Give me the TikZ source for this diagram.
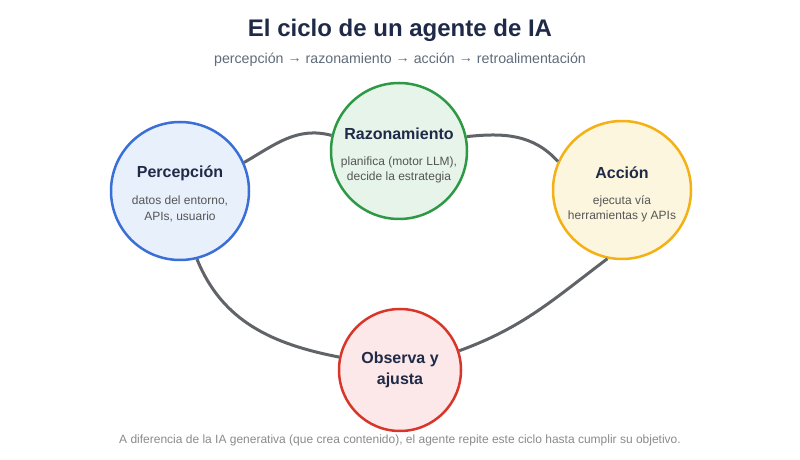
\documentclass[tikz,border=0pt]{standalone}
\usepackage{fontspec}
\setmainfont{Liberation Sans}
\usepackage{tikz}
\usetikzlibrary{topaths,calc}

\definecolor{navy}{HTML}{1F2A48}
\definecolor{subgray}{HTML}{5F6B7A}
\definecolor{txtgray}{HTML}{555555}
\definecolor{footgray}{HTML}{8A8A8A}
\definecolor{wire}{HTML}{606368}
\definecolor{percline}{HTML}{3B6FD8}
\definecolor{percfill}{HTML}{E8F0FC}
\definecolor{razline}{HTML}{2E9944}
\definecolor{razfill}{HTML}{E7F4EA}
\definecolor{accline}{HTML}{F5B014}
\definecolor{accfill}{HTML}{FDF6DF}
\definecolor{obsline}{HTML}{D9362B}
\definecolor{obsfill}{HTML}{FCE8E8}

\newcommand{\flecha}{\raisebox{1pt}{→}}

\begin{document}
\begin{tikzpicture}[
  x=1pt, y=1pt,
  stage/.style = {shape=circle, draw=#1line, fill=#1fill, line width=2.5pt, inner sep=0pt},
  head/.style = {font=\fontsize{16}{21}\selectfont\bfseries, text=navy, align=center, inner sep=0pt},
  sub/.style = {font=\fontsize{12}{15.5}\selectfont, text=txtgray, align=center, inner sep=0pt},
  link/.style = {draw=wire, line width=3pt}
]
  \useasboundingbox (0,0) rectangle (800,460);

  \node[font=\fontsize{24}{28}\selectfont\bfseries, text=navy] (title) at (400,430) {El ciclo de un agente de IA};
  \node[font=\fontsize{14.2}{17}\selectfont, text=subgray] (subtitle) at (400,400) {percepción \flecha{} razonamiento \flecha{} acción \flecha{} retroalimentación};

  % the four stages
  \node[stage=perc, minimum size=138pt] (perc) at (180,269) {};
  \node[stage=raz, minimum size=136pt] (raz) at (399,309) {};
  \node[stage=acc, minimum size=138pt] (acc) at (622,270) {};
  \node[stage=obs, minimum size=122pt] (obs) at (400,90) {};

  \node[head] (perc-t) at ([yshift=18pt]perc.center) {Percepción};
  \node[sub] (perc-s) at ([yshift=-18pt]perc.center) {datos del entorno,\\APIs, usuario};
  \node[head] (raz-t) at ([yshift=17pt]raz.center) {Razonamiento};
  \node[sub] (raz-s) at ([yshift=-19pt]raz.center) {planifica (motor LLM),\\decide la estrategia};
  \node[head] (acc-t) at ([yshift=17pt]acc.center) {Acción};
  \node[sub] (acc-s) at ([yshift=-19pt]acc.center) {ejecuta vía\\herramientas y APIs};
  \node[head] (obs-t) at (obs.center) {Observa y\\ajusta};

  % connectors
  \draw[link] (perc.24) to[out=30, in=165] (raz.167);
  \draw[link] (raz.12) to[out=6, in=132] (acc.156);
  \draw[link] (perc.-76) to[out=-68, in=169] (obs.168);
  \draw[link] (obs.18) to[out=20, in=-143] (acc.-102);

  \node[font=\fontsize{12}{14}\selectfont, text=footgray] (foot) at (400,20) {A diferencia de la IA generativa (que crea contenido), el agente repite este ciclo hasta cumplir su objetivo.};
\end{tikzpicture}
\end{document}
